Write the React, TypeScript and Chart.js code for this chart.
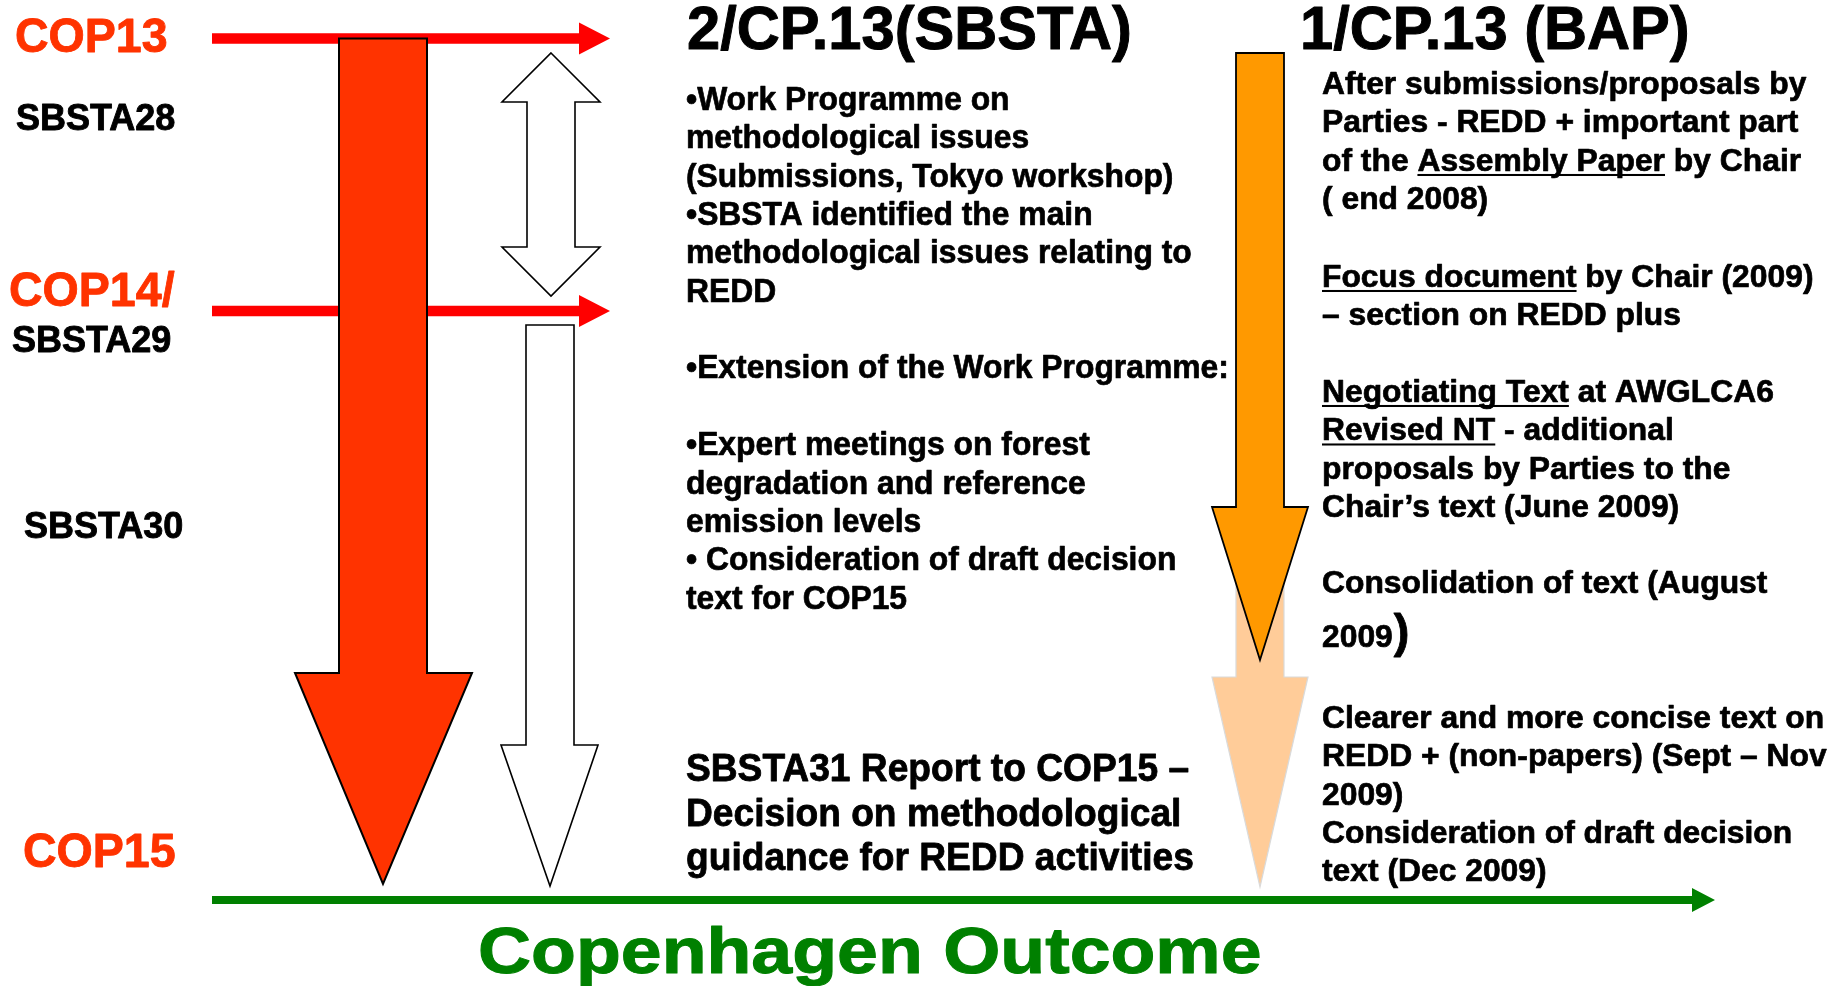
import React, { useEffect, useRef } from "react";
import { Chart, registerables } from "chart.js";

Chart.register(...registerables);

const W = 1833;
const H = 986;

// ---------------- Data (diagram units: x to the right, y downward) ----------------
const milestoneLabels = ["COP13", "SBSTA28", "COP14/", "SBSTA29", "SBSTA30", "COP15"];
const milestoneIsCop = [true, false, true, false, false, true];

// Horizontal session arrows (COP13, COP14/SBSTA29)
const sessionArrowY = [38.5, 311];
const sessionArrowFrom = [212, 212];
const sessionArrowTo = [610, 610];

// Horizontal outcome arrow (Copenhagen)
const outcomeArrowY = [900];
const outcomeArrowFrom = [212];
const outcomeArrowTo = [1715];

// Vertical down arrows: SBSTA extension (white), SBSTA (red), BAP late 2009 (peach), BAP (orange)
const downArrowNames = ["SBSTA extension", "SBSTA work programme", "BAP Sept-Dec 2009", "BAP 2008-2009"];
const downShaftLeft = [526, 339, 1236, 1236];
const downShaftRight = [574, 427, 1284, 1284];
const downTop = [325, 38.5, 580, 53];
const downHeadBase = [745, 673, 677, 507];
const downHeadLeft = [501, 295, 1212, 1212];
const downHeadRight = [598, 472, 1308, 1308];
const downTipX = [550, 383, 1260, 1260];
const downTipY = [886, 884, 887, 660];

// Double-headed arrow (COP13 -> COP14 work programme)
const dblShaft = [527, 575];
const dblHead = [502, 600];
const dblTipX = [551];
const dblTipY = [53, 296];
const dblHeadBase = [102, 247];

// Texts
const sbstaTitle = "2/CP.13(SBSTA)";
const bapTitle = "1/CP.13 (BAP)";
const sbstaLines = [
  "•Work Programme on",
  "methodological issues",
  "(Submissions, Tokyo workshop)",
  "•SBSTA identified the main",
  "methodological issues relating to",
  "REDD",
  "",
  "•Extension of the Work Programme:",
  "",
  "•Expert meetings on forest",
  "degradation and reference",
  "emission levels",
  "• Consideration of draft decision",
  "text for COP15",
];
const sbsta31Lines = [
  "SBSTA31 Report to COP15 –",
  "Decision on methodological",
  "guidance for REDD activities",
];
const bapLines = [
  "After submissions/proposals by",
  "Parties - REDD + important part",
  "of the _Assembly Paper_ by Chair",
  "( end 2008)",
  "_Focus document_ by Chair (2009)",
  "– section on REDD plus",
  "_Negotiating Text_ at AWGLCA6",
  "_Revised NT_ - additional",
  "proposals by Parties to the",
  "Chair’s text (June 2009)",
  "Consolidation of text (August",
  "2009",
  "Clearer and more concise text on",
  "REDD + (non-papers) (Sept – Nov",
  "2009)",
  "Consideration of draft decision",
  "text (Dec 2009)",
];
const outcomeLabel = "Copenhagen Outcome";

// ---------------- Layout (text placement & styles) ----------------
const FONT = '"Liberation Sans", Arial, Helvetica, sans-serif';
const milestoneX = [15, 16, 9, 12, 24, 23];
const milestoneBase = [52, 130, 306, 352, 538, 867];
const sbstaBase0 = 110;
const sbstaStep = 38.35;
const sbsta31Base = [781, 825.5, 870];
const bapBase = [93.5, 132, 170.5, 209, 286.5, 325, 401.5, 440, 478.5, 517, 593, 647, 727.5, 766, 804.5, 843, 881];

function richText(
  ctx: CanvasRenderingContext2D,
  str: string,
  x: number,
  y: number,
  size: number,
  sx: number,
  color: string,
  weightStroke = 0.7
) {
  ctx.save();
  ctx.translate(x, y);
  ctx.scale(sx, 1);
  ctx.font = `bold ${size}px ${FONT}`;
  ctx.fillStyle = color;
  ctx.strokeStyle = color;
  ctx.lineWidth = weightStroke;
  ctx.lineJoin = "round";
  ctx.textBaseline = "alphabetic";
  ctx.textAlign = "left";
  const parts = str.split("_");
  let cx = 0;
  parts.forEach((p, i) => {
    if (!p) return;
    ctx.fillText(p, cx, 0);
    if (weightStroke > 0) ctx.strokeText(p, cx, 0);
    const w = ctx.measureText(p).width;
    if (i % 2 === 1) ctx.fillRect(cx, size * 0.11, w, Math.max(1.8, size * 0.065));
    cx += w;
  });
  ctx.restore();
  return cx * sx;
}

const diagramPlugin = {
  id: "diagram",
  afterDatasetsDraw(chart: any) {
    const { ctx, scales } = chart;
    const xs = scales.x;
    const ys = scales.y;
    const px = (v: number) => xs.getPixelForValue(v);
    const py = (v: number) => ys.getPixelForValue(v);

    const poly = (pts: number[][], fill: string, stroke?: string, lw = 1.5) => {
      ctx.beginPath();
      pts.forEach(([a, b], i) => (i === 0 ? ctx.moveTo(px(a), py(b)) : ctx.lineTo(px(a), py(b))));
      ctx.closePath();
      ctx.fillStyle = fill;
      ctx.fill();
      if (stroke) {
        ctx.strokeStyle = stroke;
        ctx.lineWidth = lw;
        ctx.lineJoin = "miter";
        ctx.stroke();
      }
    };

    const hArrow = (y: number, x0: number, x1: number, thick: number, headLen: number, headHalf: number, color: string) => {
      const t = thick / 2;
      poly(
        [
          [x0, y - t],
          [x1 - headLen, y - t],
          [x1 - headLen, y - headHalf],
          [x1, y],
          [x1 - headLen, y + headHalf],
          [x1 - headLen, y + t],
          [x0, y + t],
        ],
        color
      );
    };

    ctx.save();
    ctx.fillStyle = "#FFFFFF";
    ctx.fillRect(px(0), py(0), px(W) - px(0), py(H) - py(0));

    // session arrows
    sessionArrowY.forEach((y, i) => hArrow(y, sessionArrowFrom[i], sessionArrowTo[i], 10.5, 31, 16, "#FF0000"));

    // double arrow
    const [sL, sR] = dblShaft;
    const [hL, hR] = dblHead;
    const tx = dblTipX[0];
    poly(
      [
        [tx, dblTipY[0]],
        [hR, dblHeadBase[0]],
        [sR, dblHeadBase[0]],
        [sR, dblHeadBase[1]],
        [hR, dblHeadBase[1]],
        [tx, dblTipY[1]],
        [hL, dblHeadBase[1]],
        [sL, dblHeadBase[1]],
        [sL, dblHeadBase[0]],
        [hL, dblHeadBase[0]],
      ],
      "#FFFFFF",
      "#000000",
      1.6
    );

    // down arrows
    const fills = ["#FFFFFF", "#FF3300", "#FFCC99", "#FF9900"];
    const strokes = ["#000000", "#000000", "#DADADA", "#000000"];
    const widths = [1.6, 2, 1.2, 1.8];
    downArrowNames.forEach((_, i) => {
      poly(
        [
          [downShaftLeft[i], downTop[i]],
          [downShaftRight[i], downTop[i]],
          [downShaftRight[i], downHeadBase[i]],
          [downHeadRight[i], downHeadBase[i]],
          [downTipX[i], downTipY[i]],
          [downHeadLeft[i], downHeadBase[i]],
          [downShaftLeft[i], downHeadBase[i]],
        ],
        fills[i],
        strokes[i],
        widths[i]
      );
    });

    // outcome arrow
    outcomeArrowY.forEach((y, i) => hArrow(y, outcomeArrowFrom[i], outcomeArrowTo[i], 8, 23, 12, "#008000"));

    // milestone labels
    milestoneLabels.forEach((lab, i) => {
      const cop = milestoneIsCop[i];
      richText(ctx, lab, px(milestoneX[i]), py(milestoneBase[i]), cop ? 49 : 37.5, cop ? 0.95 : 0.96, cop ? "#FF3300" : "#000000", 0.9);
    });

    // titles
    richText(ctx, sbstaTitle, px(687), py(48.5), 60.5, 0.985, "#000000", 1.0);
    richText(ctx, bapTitle, px(1300), py(48.5), 60.5, 0.985, "#000000", 1.0);

    // SBSTA column
    sbstaLines.forEach((l, i) => {
      if (l) richText(ctx, l, px(686), py(sbstaBase0 + i * sbstaStep), 33.5, 0.95, "#000000");
    });
    sbsta31Lines.forEach((l, i) => richText(ctx, l, px(686), py(sbsta31Base[i]), 38.5, 0.965, "#000000", 0.8));

    // BAP column
    bapLines.forEach((l, i) => {
      const w = richText(ctx, l, px(1322), py(bapBase[i]), 31.5, 1.01, "#000000");
      if (l === "2009" && i === 11) {
        richText(ctx, ")", px(1322) + w + 1, py(bapBase[i]), 47, 1.0, "#000000", 0.8);
      }
    });

    // outcome label
    richText(ctx, outcomeLabel, px(478), py(973), 65, 1.13, "#008000", 1.0);

    ctx.restore();
  },
};

export default function App() {
  const ref = useRef<HTMLCanvasElement | null>(null);
  useEffect(() => {
    if (!ref.current) return;
    const chart = new Chart(ref.current, {
      type: "scatter",
      data: { datasets: [{ data: [], pointRadius: 0 }] },
      options: {
        responsive: false,
        animation: false,
        events: [],
        layout: { padding: 0 },
        plugins: { legend: { display: false }, tooltip: { enabled: false }, title: { display: false } },
        scales: {
          x: { type: "linear", min: 0, max: W, display: false },
          y: { type: "linear", min: 0, max: H, reverse: true, display: false },
        },
      },
      plugins: [diagramPlugin],
    });
    return () => chart.destroy();
  }, []);
  return (
    <div style={{ position: "fixed", left: 0, top: 0, width: W, height: H, background: "#fff" }}>
      <canvas ref={ref} width={W} height={H} style={{ display: "block" }} />
    </div>
  );
}
